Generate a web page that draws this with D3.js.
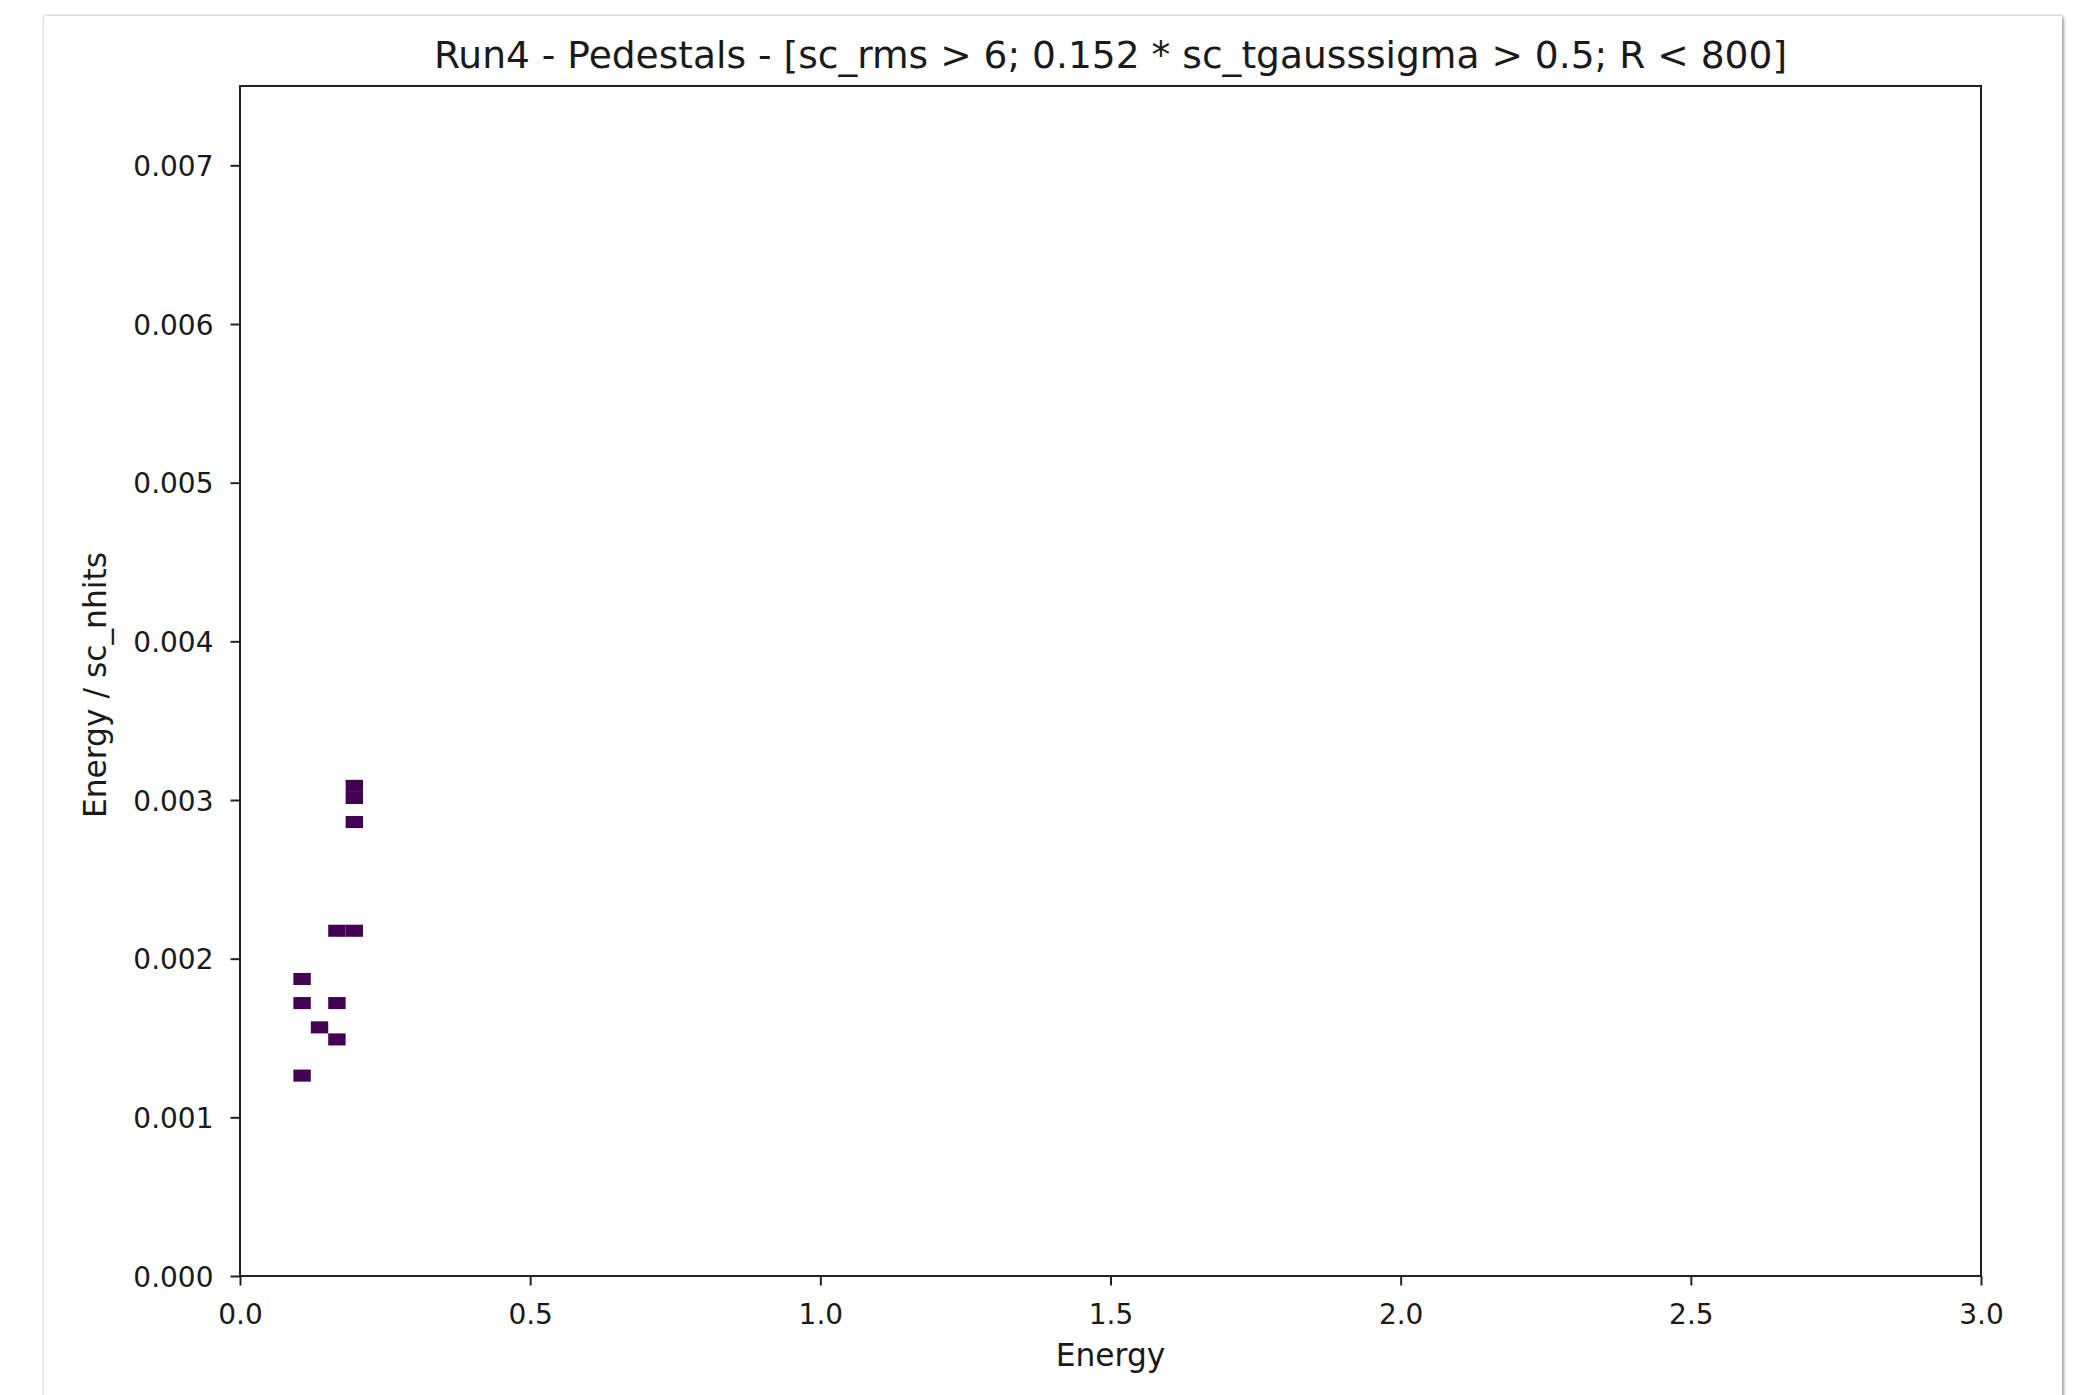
<!DOCTYPE html>
<html>
<head>
<meta charset="utf-8">
<script src="https://cdn.jsdelivr.net/npm/d3@7"></script>
<style>
  html, body { margin: 0; padding: 0; background: #ffffff; overflow: hidden; }
  body { width: 2075px; height: 1395px; position: relative; }
  #card {
    position: absolute; left: 44px; top: 16px; width: 2018px; height: 1500px;
    background: #ffffff;
    box-shadow: 0 0 3px rgba(0,0,0,0.28), 2px 1px 3px rgba(0,0,0,0.30);
  }
  svg { position: absolute; left: 0; top: 0; }
  text { font-family: "DejaVu Sans", sans-serif; fill: #1a1a1a; }
</style>
</head>
<body>
<div id="card"></div>
<svg id="chart" width="2075" height="1395"></svg>
<script>
// 2D histogram cells (bin centres) and their entry counts
const cellEnergy   = [0.197, 0.197, 0.197, 0.167, 0.197, 0.107, 0.107, 0.167, 0.137, 0.167, 0.107];
const cellPerHit   = [0.003089, 0.003013, 0.002861, 0.002176, 0.002176, 0.001872, 0.001720, 0.001720, 0.001567, 0.001491, 0.001263];
const cellCounts   = [1, 1, 1, 1, 1, 1, 1, 1, 1, 1, 1];
const binWidth     = 0.03;
const binHeight    = 0.0000761;

const xTicks = [0.0, 0.5, 1.0, 1.5, 2.0, 2.5, 3.0];
const yTicks = [0.000, 0.001, 0.002, 0.003, 0.004, 0.005, 0.006, 0.007];
const xDomain = [0, 3];
const yDomain = [0, 0.0075];

const titleText = "Run4 - Pedestals - [sc_rms > 6; 0.152 * sc_tgausssigma > 0.5; R < 800]";
const xLabel = "Energy";
const yLabel = "Energy / sc_nhits";

const box = { left: 240, right: 1981, top: 86, bottom: 1276 };
const svg = d3.select("#chart");

const x = d3.scaleLinear().domain(xDomain).range([box.left, box.right]);
const y = d3.scaleLinear().domain(yDomain).range([box.bottom, box.top]);

const cMin = d3.min(cellCounts), cMax = d3.max(cellCounts);
const colorOf = c => d3.interpolateViridis(cMax > cMin ? (c - cMin) / (cMax - cMin) : 0);

const cells = cellEnergy.map((e, i) => ({ e, r: cellPerHit[i], n: cellCounts[i] }));

// histogram cells
svg.append("g").selectAll("rect").data(cells).join("rect")
  .attr("x", d => x(d.e - binWidth / 2))
  .attr("y", d => y(d.r + binHeight / 2))
  .attr("width", d => x(d.e + binWidth / 2) - x(d.e - binWidth / 2))
  .attr("height", d => y(d.r - binHeight / 2) - y(d.r + binHeight / 2))
  .attr("fill", d => colorOf(d.n));

// axes
const tickLen = 9.5;
const gx = svg.append("g").attr("transform", `translate(0,${box.bottom})`)
  .call(d3.axisBottom(x).tickValues(xTicks).tickFormat(d3.format(".1f")).tickSize(tickLen).tickPadding(6));
const gy = svg.append("g").attr("transform", `translate(${box.left},0)`)
  .call(d3.axisLeft(y).tickValues(yTicks).tickFormat(d3.format(".3f")).tickSize(tickLen).tickPadding(17));

[gx, gy].forEach(g => {
  g.select(".domain").remove();
  g.selectAll(".tick line").attr("stroke", "#222").attr("stroke-width", 2);
  g.selectAll(".tick text").attr("font-family", "DejaVu Sans").attr("font-size", 28).attr("fill", "#1a1a1a");
});
gx.selectAll(".tick text").attr("dy", "1.15em");
gy.selectAll(".tick text").attr("dy", "0.36em");

// frame
svg.append("rect")
  .attr("x", box.left).attr("y", box.top)
  .attr("width", box.right - box.left).attr("height", box.bottom - box.top)
  .attr("fill", "none").attr("stroke", "#222").attr("stroke-width", 2);

// title and labels
svg.append("text")
  .attr("x", (box.left + box.right) / 2).attr("y", 68)
  .attr("text-anchor", "middle").attr("font-size", 37.6)
  .text(titleText);

svg.append("text")
  .attr("x", (box.left + box.right) / 2).attr("y", 1366)
  .attr("text-anchor", "middle").attr("font-size", 31.3)
  .text(xLabel);

svg.append("text")
  .attr("transform", `translate(106,${(box.top + box.bottom) / 2 + 4}) rotate(-90)`)
  .attr("text-anchor", "middle").attr("font-size", 31.3)
  .text(yLabel);
</script>
</body>
</html>
